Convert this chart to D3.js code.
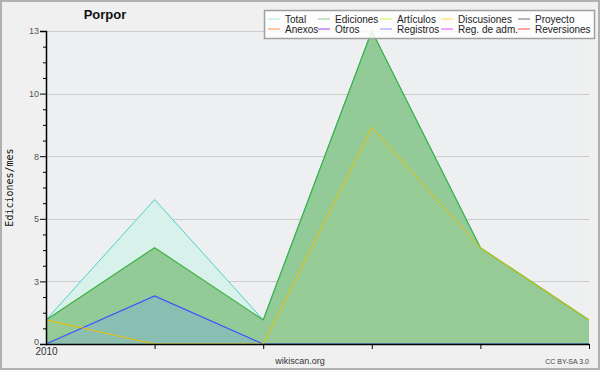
<!DOCTYPE html>
<html>
<head>
<meta charset="utf-8">
<script src="https://cdn.jsdelivr.net/npm/d3@7"></script>
<style>
  body { margin: 0; background: #f0f0f0; }
  svg { display: block; font-family: "Liberation Sans", Arial, sans-serif; }
</style>
</head>
<body>
<div id="chart"></div>
<script>
var months = ["2010-01", "2010-02", "2010-03", "2010-04", "2010-05", "2010-06"];
var monthLabels = ["2010", "", "", "", "", ""];
var total = [1, 6, 1, 13, 4, 1];
var ediciones = [1, 4, 1, 13, 4, 1];
var registros = [0, 2, 0, 0, 0, 0];
var discusiones = [1, 0, 0, 9, 4, 1];
var yMax = 13;
var yTickLabels = ["0", "3", "5", "8", "10", "13"];

var legendNames = [
  ["Total", "Ediciones", "Artículos", "Discusiones", "Proyecto"],
  ["Anexos", "Otros", "Registros", "Reg. de adm.", "Reversiones"]
];
var legendColors = [
  ["#a8e8e4", "#8ccc8c", "#d0f050", "#ffd84a", "#707070"],
  ["#ff8c50", "#9040f0", "#8890ff", "#e050f0", "#ff4a4a"]
];

document.addEventListener("DOMContentLoaded", function () {
  var width = 600,
    height = 370;
  var left = 46, right = 589, top = 31, bottom = 344;

  var svg = d3.select("#chart").append("svg").attr("width", width).attr("height", height);

  svg.append("rect")
    .attr("x", 1).attr("y", 1).attr("width", width - 2).attr("height", height - 2)
    .attr("fill", "#f0f0f0").attr("stroke", "#b0b0b0").attr("stroke-width", 2);

  svg.append("rect")
    .attr("x", left).attr("y", top).attr("width", right - left).attr("height", bottom - top)
    .attr("fill", "#eeeff1");

  var x = d3.scaleLinear().domain([0, months.length - 1]).range([left, right]);
  var y = d3.scaleLinear().domain([0, yMax]).range([bottom, top]);

  var majors = d3.range(6).map(function (i) { return yMax * i / 5; });
  var minors = d3.range(21).map(function (i) { return yMax * i / 20; })
    .filter(function (d, i) { return i % 4 !== 0; });

  // grid
  svg.append("g").selectAll("line")
    .data(majors.slice(1))
    .enter().append("line")
    .attr("x1", left).attr("x2", right)
    .attr("y1", function (d) { return Math.round(y(d)) + 0.5; })
    .attr("y2", function (d) { return Math.round(y(d)) + 0.5; })
    .attr("stroke", "#cbcbcb").attr("stroke-width", 1);

  var idx = d3.range(months.length);

  function area(vals) {
    return d3.area()
      .x(function (d) { return x(d); })
      .y0(bottom)
      .y1(function (d) { return y(vals[d]); })(idx);
  }
  function line(vals) {
    return d3.line()
      .x(function (d) { return x(d); })
      .y(function (d) { return y(vals[d]); })(idx);
  }

  svg.append("path").attr("d", area(total)).attr("fill", "#d8f1ea");
  svg.append("path").attr("d", area(ediciones)).attr("fill", "#92cb98");
  svg.append("path").attr("d", area(registros)).attr("fill", "#6f9cff").attr("fill-opacity", 0.25);
  svg.append("path").attr("d", area(discusiones)).attr("fill", "#ffd040").attr("fill-opacity", 0.04);

  svg.append("path").attr("d", line(total)).attr("fill", "none").attr("stroke", "#48d4cc").attr("stroke-width", 1);
  svg.append("path").attr("d", line(ediciones)).attr("fill", "none").attr("stroke", "#3cb040").attr("stroke-width", 1.2);
  svg.append("path").attr("d", line(registros)).attr("fill", "none").attr("stroke", "#3c50ff").attr("stroke-width", 1.2);
  svg.append("path").attr("d", line(discusiones)).attr("fill", "none").attr("stroke", "#f0c000").attr("stroke-width", 1);

  // y axis
  var yAxis = svg.append("g").attr("transform", "translate(" + left + ",0)")
    .call(d3.axisLeft(y).tickValues(majors).tickSize(6).tickPadding(1)
      .tickFormat(function (d, i) { return yTickLabels[i]; }));
  svg.append("g").attr("transform", "translate(" + left + ",0)")
    .call(d3.axisLeft(y).tickValues(minors).tickSize(3).tickFormat(""))
    .select(".domain").remove();
  yAxis.selectAll("text").attr("font-size", 9).attr("fill", "#555");
  yAxis.selectAll(".tick").filter(function (d) { return d === 0; }).select("text").attr("dy", "0.1em");
  svg.selectAll("g .tick line").attr("stroke", "#000");

  // x axis
  var xAxis = svg.append("g").attr("transform", "translate(0," + bottom + ")")
    .call(d3.axisBottom(x).tickValues(idx).tickSize(5).tickSizeOuter(0)
      .tickFormat(function (d) { return monthLabels[d]; }));
  xAxis.selectAll("text").attr("font-size", 10).attr("fill", "#333").attr("dy", "0.3em");
  xAxis.selectAll(".tick").filter(function (d) { return d === 0; }).select("line").remove();
  svg.selectAll(".domain").attr("stroke", "#000").attr("stroke-width", 1.5);

  // title & labels
  svg.append("text").attr("x", 105).attr("y", 19).attr("text-anchor", "middle")
    .attr("font-size", 13).attr("font-weight", "bold").attr("fill", "#111").text("Porpor");

  svg.append("text")
    .attr("transform", "translate(13," + (top + bottom) / 2 + ") rotate(-90)")
    .attr("text-anchor", "middle").attr("font-family", "DejaVu Sans Mono")
    .attr("font-size", 10).attr("fill", "#111").text("Ediciones/mes");

  svg.append("text").attr("x", 300).attr("y", 364).attr("text-anchor", "middle")
    .attr("font-size", 9).attr("fill", "#333").text("wikiscan.org");
  svg.append("text").attr("x", 589).attr("y", 364).attr("text-anchor", "end")
    .attr("font-size", 7).attr("fill", "#444").text("CC BY-SA 3.0");

  // legend
  var legend = svg.append("g");
  legend.append("rect")
    .attr("x", 264.5).attr("y", 10.5).attr("width", 330).attr("height", 28)
    .attr("fill", "#fff").attr("fill-opacity", 0.85)
    .attr("stroke", "#a0a0a0").attr("stroke-width", 1.5);
  var colX = [268, 318, 380, 441, 518];
  legendNames.forEach(function (row, r) {
    row.forEach(function (name, c) {
      var ly = 19 + r * 10;
      legend.append("line")
        .attr("x1", colX[c]).attr("x2", colX[c] + 12)
        .attr("y1", ly).attr("y2", ly)
        .attr("stroke", legendColors[r][c]).attr("stroke-width", 1);
      legend.append("text")
        .attr("x", colX[c] + 17).attr("y", ly + 3.5)
        .attr("font-size", 10).attr("fill", "#222").text(name);
    });
  });
});
</script>
</body>
</html>
